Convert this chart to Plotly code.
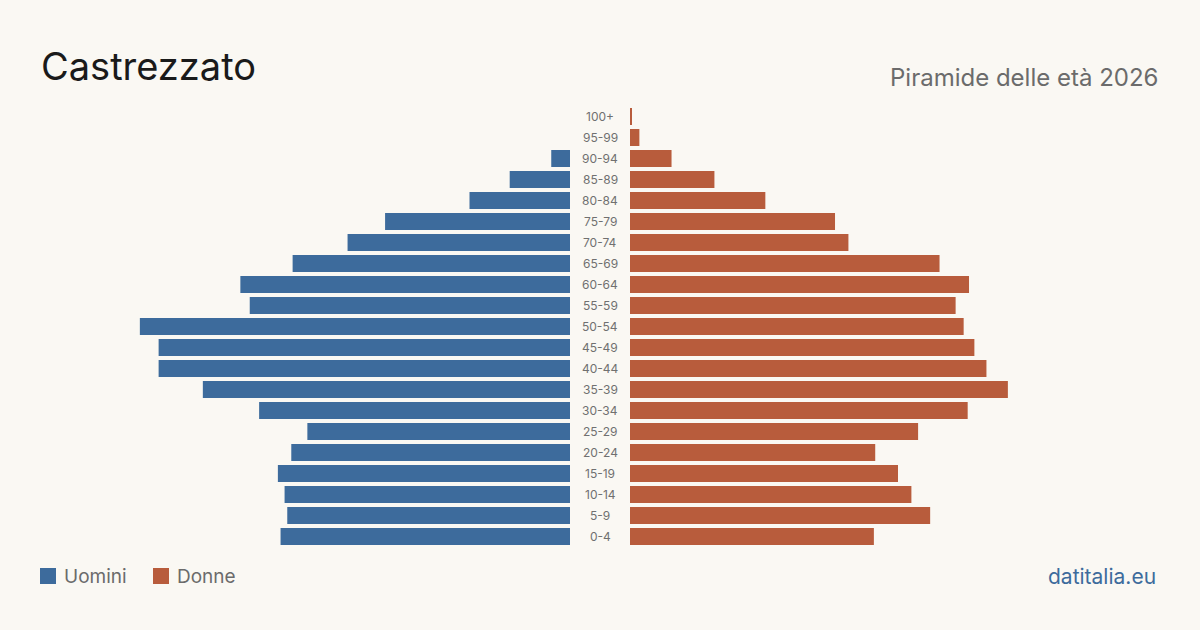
import plotly.graph_objects as go

age_groups = ["0-4", "5-9", "10-14", "15-19", "20-24", "25-29", "30-34", "35-39",
              "40-44", "45-49", "50-54", "55-59", "60-64", "65-69", "70-74",
              "75-79", "80-84", "85-89", "90-94", "95-99", "100+"]
men = [216, 211, 213, 218, 208, 196, 232, 274, 307, 307, 321, 239, 246, 207,
       166, 138, 75, 45, 14, 0, 0]
women = [182, 224, 210, 200, 183, 215, 252, 282, 266, 257, 249, 243, 253, 231,
         163, 153, 101, 63, 31, 7, 1]

title_text = "Castrezzato"
subtitle_text = "Piramide delle età 2026"
source_text = "datitalia.eu"
men_name = "Uomini"
women_name = "Donne"

BLUE = "#3d6b9c"
ORANGE = "#b85c3c"
BG = "#faf8f3"
W, H = 1200, 630
PX_PER_UNIT = 1.34
center_left, center_right = 570, 630
rng = center_left / PX_PER_UNIT

fig = go.Figure()
fig.add_trace(go.Bar(y=age_groups, x=men, orientation="h", marker_color=BLUE,
                     marker_line_width=0,
                     name=men_name, xaxis="x", yaxis="y", showlegend=False,
                     hovertemplate="%{y}: %{x}<extra></extra>"))
fig.add_trace(go.Bar(y=age_groups, x=women, orientation="h", marker_color=ORANGE,
                     marker_line_width=0,
                     name=women_name, xaxis="x2", yaxis="y", showlegend=False,
                     hovertemplate="%{y}: %{x}<extra></extra>"))

n = len(age_groups)
row_px = 21
y_top_px = 116.5 - row_px / 2
y_bot_px = 536.5 + row_px / 2
ydom = [(H - y_bot_px) / H, (H - y_top_px) / H]

fig.update_layout(
    width=W, height=H,
    margin=dict(l=0, r=0, t=0, b=0),
    paper_bgcolor=BG, plot_bgcolor=BG,
    bargap=4 / 21,
    font=dict(family="Inter, Liberation Sans, sans-serif", color="#666666"),
    xaxis=dict(domain=[0, center_left / W], range=[rng, 0], visible=False, fixedrange=True),
    xaxis2=dict(domain=[center_right / W, 1], range=[0, (W - center_right) / PX_PER_UNIT],
                visible=False, fixedrange=True),
    yaxis=dict(domain=ydom, range=[-0.5, n - 0.5], visible=False, type="category",
               categoryorder="array", categoryarray=age_groups, fixedrange=True),
)

# Centre age labels
for g in age_groups:
    fig.add_annotation(x=600 / W, xref="paper", y=g, yref="y", text=g, showarrow=False,
                       font=dict(size=12, color="#707070"), xanchor="center", yanchor="middle")

# Title and subtitle
fig.add_annotation(x=39 / W, y=(H - 66) / H, xref="paper", yref="paper", text=title_text,
                   showarrow=False, xanchor="left", yanchor="middle",
                   font=dict(size=38, color="#1a1a1a"))
fig.add_annotation(x=1160 / W, y=(H - 77) / H, xref="paper", yref="paper", text=subtitle_text,
                   showarrow=False, xanchor="right", yanchor="middle",
                   font=dict(size=24, color="#6b6b6b"))

# Legend
leg_y = 576
for x0, color, label in [(40, BLUE, men_name), (153, ORANGE, women_name)]:
    fig.add_shape(type="rect", xref="paper", yref="paper",
                  x0=x0 / W, x1=(x0 + 16) / W, y0=(H - leg_y - 8) / H, y1=(H - leg_y + 8) / H,
                  fillcolor=color, line_width=0)
    fig.add_annotation(x=(x0 + 22) / W, y=(H - leg_y) / H, xref="paper", yref="paper",
                       text=label, showarrow=False, xanchor="left", yanchor="middle",
                       font=dict(size=19, color="#6b6b6b"))

fig.add_annotation(x=1158 / W, y=(H - leg_y) / H, xref="paper", yref="paper", text=source_text,
                   showarrow=False, xanchor="right", yanchor="middle",
                   font=dict(size=21, color=BLUE))

fig.write_html("out.html")
